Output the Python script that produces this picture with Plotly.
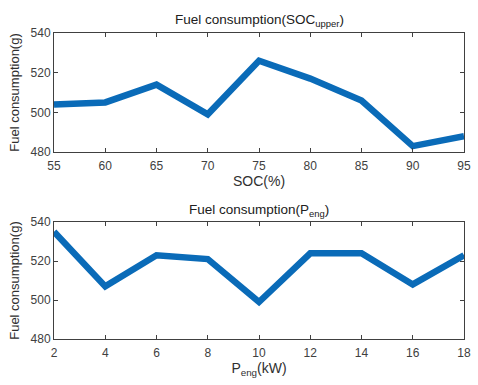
import plotly.graph_objects as go
from plotly.subplots import make_subplots

soc = [55, 60, 65, 70, 75, 80, 85, 90, 95]
fuel_soc = [504, 505, 514, 499, 526, 517, 506, 483, 488]
peng = [2, 4, 6, 8, 10, 12, 14, 16, 18]
fuel_peng = [535, 507, 523, 521, 499, 524, 524, 508, 523]

fig = make_subplots(rows=2, cols=1)
line = dict(color="#0a6bb8", width=6.5)
fig.add_trace(go.Scatter(x=soc, y=fuel_soc, mode="lines", line=line, showlegend=False), row=1, col=1)
fig.add_trace(go.Scatter(x=peng, y=fuel_peng, mode="lines", line=line, showlegend=False), row=2, col=1)

tickfont = dict(family="Liberation Sans, Arial, sans-serif", size=12, color="#404040")
axcommon = dict(showgrid=False, zeroline=False, showline=True, mirror="ticks", linecolor="#404040",
                linewidth=1, ticks="inside", ticklen=4, tickcolor="#404040", tickfont=tickfont)
xtf = dict(family="Liberation Sans, Arial, sans-serif", size=14, color="#303030")
ytf = dict(family="Liberation Sans, Arial, sans-serif", size=13, color="#303030")
ttf = dict(family="Liberation Sans, Arial, sans-serif", size=13.5, color="#202020")

fig.update_layout(
    width=478, height=385, margin=dict(l=54, r=7, t=33, b=46),
    paper_bgcolor="white", plot_bgcolor="white", font=tickfont,
    xaxis=dict(domain=[0, 1], range=[55, 95], tickvals=soc, anchor="y", ticklabelstandoff=3,
               title=dict(text="SOC(%)", font=xtf, standoff=3), **axcommon),
    yaxis=dict(domain=[0.611, 1], range=[480, 540], tickvals=[480, 500, 520, 540], anchor="x",
               title=dict(text="Fuel consumption(g)", font=ytf, standoff=8), **axcommon),
    xaxis2=dict(domain=[0, 1], range=[2, 18], tickvals=peng, anchor="y2", ticklabelstandoff=3,
                title=dict(text="P<sub>eng</sub>(kW)", font=xtf, standoff=0), **axcommon),
    yaxis2=dict(domain=[0, 0.382], range=[480, 540], tickvals=[480, 500, 520, 540], anchor="x2",
                title=dict(text="Fuel consumption(g)", font=ytf, standoff=8), **axcommon),
    annotations=[
        dict(text="Fuel consumption(SOC<sub>upper</sub>)", x=0.5, xref="paper", y=1.0, yref="paper",
             yanchor="bottom", yshift=2, showarrow=False, font=ttf),
        dict(text="Fuel consumption(P<sub>eng</sub>)", x=0.5, xref="paper", y=0.382, yref="paper",
             yanchor="bottom", yshift=1, showarrow=False, font=ttf),
    ],
)
fig.write_html("out.html")
